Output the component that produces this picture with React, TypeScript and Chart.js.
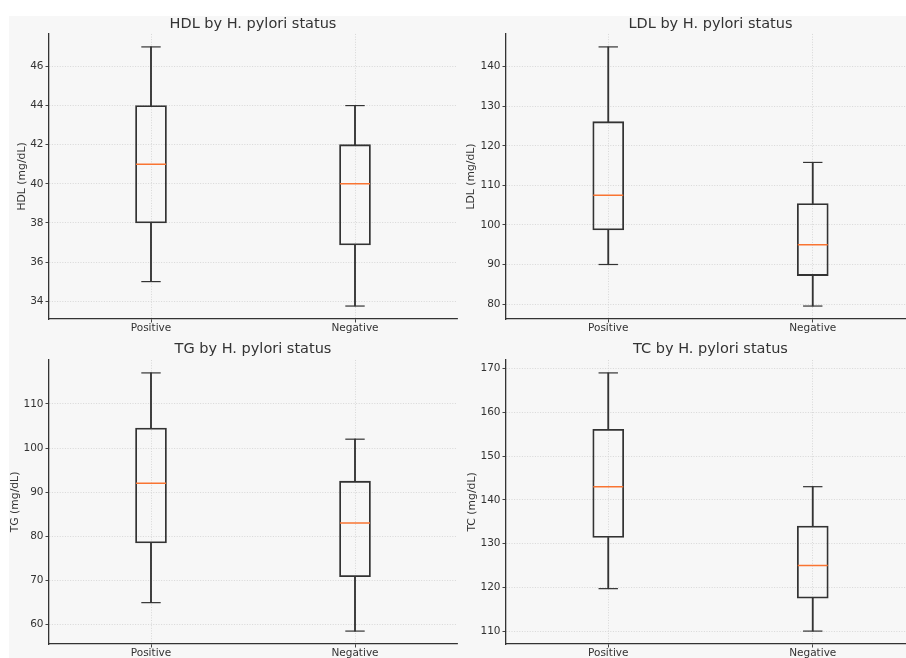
import React, { useEffect, useRef } from "react";
import { Chart, registerables } from "chart.js";

Chart.register(...registerables);

const categories = ["Positive", "Negative"];

const hdlLow = [35, 33.75];
const hdlQ1 = [38, 36.87];
const hdlMedian = [41, 40];
const hdlQ3 = [44, 42];
const hdlHigh = [47, 44];
const hdlTicks = [34, 36, 38, 40, 42, 44, 46];

const ldlLow = [90, 79.5];
const ldlQ1 = [98.75, 87.2];
const ldlMedian = [107.5, 95];
const ldlQ3 = [126.1, 105.4];
const ldlHigh = [145, 115.8];
const ldlTicks = [80, 90, 100, 110, 120, 130, 140];

const tgLow = [65, 58.56];
const tgQ1 = [78.5, 70.85];
const tgMedian = [92, 83];
const tgQ3 = [104.5, 92.5];
const tgHigh = [117, 102];
const tgTicks = [60, 70, 80, 90, 100, 110];

const tcLow = [119.7, 110];
const tcQ1 = [131.4, 117.5];
const tcMedian = [143, 125];
const tcQ3 = [156.1, 134];
const tcHigh = [169, 143];
const tcTicks = [110, 120, 130, 140, 150, 160, 170];

const FONT = "'DejaVu Sans', 'Liberation Sans', sans-serif";
const TEXT = "#333333";
const BOX = "#333333";
const MED = "#f97432";
const GRID = "#cfcfcf";

type PanelProps = {
  title: string;
  yLabel: string;
  low: number[];
  q1: number[];
  med: number[];
  q3: number[];
  high: number[];
  ticks: number[];
  left: number;
  top: number;
  width: number;
  height: number;
  yWidth: number;
  rightPad: number;
  titleTop: number;
  titleBottom: number;
  xHeight: number;
  yTitlePad: number;
};

function BoxPanel(p: PanelProps) {
  const ref = useRef<HTMLCanvasElement | null>(null);
  useEffect(() => {
    if (!ref.current) return;
    const lo = Math.min(...p.low);
    const hi = Math.max(...p.high);
    const margin = (hi - lo) * 0.05;
    const chart = new Chart(ref.current, {
      type: "bar",
      data: {
        labels: categories,
        datasets: [
          {
            type: "bar",
            data: categories.map((_, i) => [p.q1[i], p.q3[i]]) as any,
            backgroundColor: "rgba(0,0,0,0)",
            borderColor: BOX,
            borderWidth: 1.15,
            borderSkipped: false,
            barThickness: 31,
            grouped: false,
            order: 3,
          } as any,
          {
            type: "bar",
            data: categories.map((_, i) => [p.low[i], p.q1[i]]) as any,
            backgroundColor: BOX,
            borderWidth: 0,
            barThickness: 1.2,
            grouped: false,
            order: 3,
          } as any,
          {
            type: "bar",
            data: categories.map((_, i) => [p.q3[i], p.high[i]]) as any,
            backgroundColor: BOX,
            borderWidth: 0,
            barThickness: 1.2,
            grouped: false,
            order: 3,
          } as any,
          {
            type: "line",
            data: p.low,
            showLine: false,
            pointStyle: "line",
            pointRadius: 9.7,
            pointBorderColor: BOX,
            pointBorderWidth: 1.2,
            order: 2,
          } as any,
          {
            type: "line",
            data: p.high,
            showLine: false,
            pointStyle: "line",
            pointRadius: 9.7,
            pointBorderColor: BOX,
            pointBorderWidth: 1.2,
            order: 2,
          } as any,
          {
            type: "line",
            data: p.med,
            showLine: false,
            pointStyle: "line",
            pointRadius: 15,
            pointBorderColor: MED,
            pointBorderWidth: 1.5,
            order: 1,
          } as any,
        ],
      },
      options: {
        animation: false,
        responsive: false,
        maintainAspectRatio: false,
        devicePixelRatio: 1,
        layout: {
          autoPadding: false,
          padding: { left: 0, right: p.rightPad, top: 0, bottom: 0 },
        },
        plugins: {
          legend: { display: false },
          tooltip: { enabled: false },
          title: {
            display: true,
            fullSize: false,
            text: p.title,
            color: TEXT,
            font: { family: FONT, size: 14.5, weight: "normal", lineHeight: 1.1 },
            padding: { top: p.titleTop, bottom: p.titleBottom },
          },
        },
        scales: {
          x: {
            type: "category",
            offset: true,
            grid: {
              offset: false,
              color: GRID,
              lineWidth: 0.8,
              tickLength: 3.5,
              tickColor: "#444444",
              tickWidth: 1,
              tickBorderDash: [],
            } as any,
            border: { color: "#333333", width: 1.3, dash: [1, 1.6] },
            ticks: { font: { family: FONT, size: 10.5 }, color: TEXT, padding: -0.5 },
            afterFit: (s: any) => {
              s.height = p.xHeight;
              s.paddingLeft = 0;
              s.paddingRight = 0;
            },
          },
          y: {
            type: "linear",
            min: lo - margin,
            max: hi + margin,
            afterBuildTicks: (s: any) => {
              s.ticks = p.ticks.map((v) => ({ value: v }));
            },
            afterFit: (s: any) => {
              s.width = p.yWidth;
            },
            grid: {
              color: GRID,
              lineWidth: 0.8,
              tickLength: 3.5,
              tickColor: "#444444",
              tickWidth: 1,
              tickBorderDash: [],
            } as any,
            border: { color: "#333333", width: 1.3, dash: [1, 1.6] },
            ticks: { font: { family: FONT, size: 10.5 }, color: TEXT, padding: 2 },
            title: {
              display: true,
              text: p.yLabel,
              color: TEXT,
              font: { family: FONT, size: 10.8 },
              padding: { top: p.yTitlePad, bottom: 0 },
            },
          },
        },
      } as any,
    });
    return () => chart.destroy();
  }, []);
  return (
    <canvas
      ref={ref}
      width={p.width}
      height={p.height}
      style={{
        position: "absolute",
        left: p.left,
        top: p.top,
        width: p.width,
        height: p.height,
        display: "block",
      }}
    />
  );
}

export default function App() {
  return (
    <div
      style={{
        position: "fixed",
        left: 0,
        top: 0,
        width: 906,
        height: 658,
        overflow: "hidden",
        background: "#ffffff",
      }}
    >
      <div
        style={{
          position: "absolute",
          left: 9,
          top: 16,
          right: 0,
          bottom: 0,
          background: "#f7f7f7",
        }}
      />
      <BoxPanel
        title="HDL by H. pylori status"
        yLabel="HDL (mg/dL)"
        low={hdlLow}
        q1={hdlQ1}
        med={hdlMedian}
        q3={hdlQ3}
        high={hdlHigh}
        ticks={hdlTicks}
        left={9}
        top={16}
        width={451}
        height={320}
        yWidth={40}
        rightPad={3}
        titleTop={0}
        titleBottom={2}
        xHeight={17}
        yTitlePad={6.5}
      />
      <BoxPanel
        title="LDL by H. pylori status"
        yLabel="LDL (mg/dL)"
        low={ldlLow}
        q1={ldlQ1}
        med={ldlMedian}
        q3={ldlQ3}
        high={ldlHigh}
        ticks={ldlTicks}
        left={460}
        top={16}
        width={460}
        height={320}
        yWidth={46}
        rightPad={5}
        titleTop={0}
        titleBottom={2}
        xHeight={17}
        yTitlePad={5.2}
      />
      <BoxPanel
        title="TG by H. pylori status"
        yLabel="TG (mg/dL)"
        low={tgLow}
        q1={tgQ1}
        med={tgMedian}
        q3={tgQ3}
        high={tgHigh}
        ticks={tgTicks}
        left={9}
        top={336}
        width={451}
        height={334}
        yWidth={40}
        rightPad={3}
        titleTop={5.3}
        titleBottom={2.75}
        xHeight={26}
        yTitlePad={0}
      />
      <BoxPanel
        title="TC by H. pylori status"
        yLabel="TC (mg/dL)"
        low={tcLow}
        q1={tcQ1}
        med={tcMedian}
        q3={tcQ3}
        high={tcHigh}
        ticks={tcTicks}
        left={460}
        top={336}
        width={460}
        height={334}
        yWidth={46}
        rightPad={5}
        titleTop={5.3}
        titleBottom={2.75}
        xHeight={26}
        yTitlePad={5.5}
      />
    </div>
  );
}
